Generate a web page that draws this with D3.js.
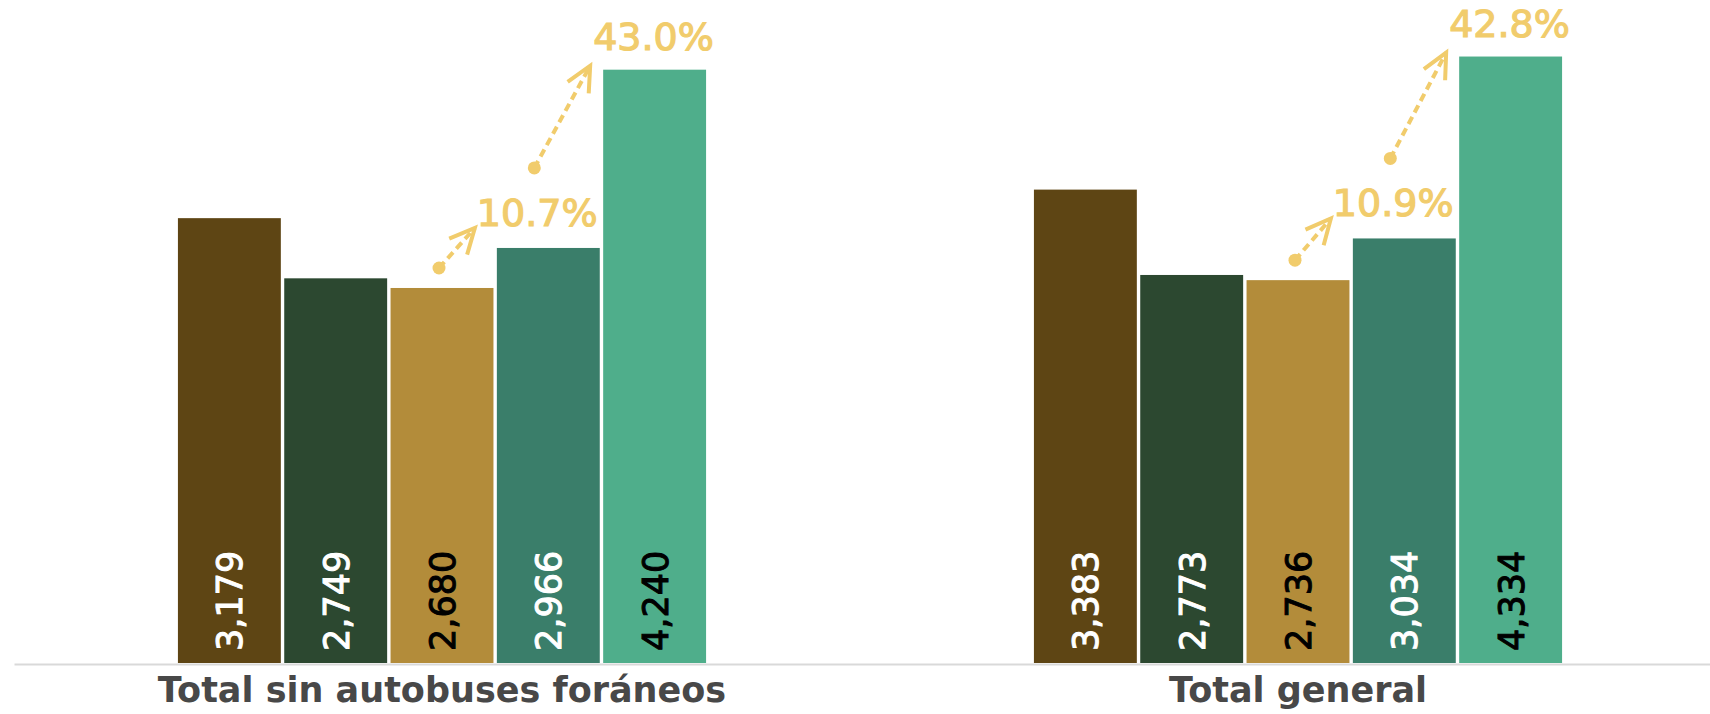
<html>
<head>
<meta charset="utf-8">
<style>
	body { margin: 0; background: #fff; }
	svg text { font-family: "DejaVu Sans", sans-serif; }
</style>
<script src="https://cdnjs.cloudflare.com/ajax/libs/d3/7.8.5/d3.min.js"></script>
</head>
<body>
<svg id="chart" width="1710" height="714"></svg>
<script>
let width = 1710,
	height = 714;

// data
let categories = ["Total sin autobuses foráneos", "Total general"];
let sinForaneos = [3179, 2749, 2680, 2966, 4240];
let totalGeneral = [3383, 2773, 2736, 3034, 4334];
let seriesValues = [sinForaneos, totalGeneral];

let barColors = ["#5e4514", "#2c4830", "#b38c3a", "#3a7e6a", "#4fae8b"];
let labelColors = ["#fff", "#fff", "#000", "#fff", "#000"];
let annoColor = "#f1cc6c";

let svg = d3.select("#chart");

let x0 = d3.scaleBand().domain(categories).range([14, 1726])
	.paddingInner(0.383).paddingOuter(0.1915);
let x1 = d3.scaleBand().domain(d3.range(5)).range([0, x0.bandwidth()])
	.paddingInner(0.032);
let y = d3.scaleLinear().domain([0, 4738]).range([663, 0]);

// arrow head
svg.append("defs").append("marker")
	.attr("id", "head")
	.attr("markerUnits", "userSpaceOnUse")
	.attr("viewBox", "-32 -18 38 36")
	.attr("markerWidth", 38)
	.attr("markerHeight", 36)
	.attr("refX", 0)
	.attr("refY", 0)
	.attr("orient", "auto")
	.append("path")
	.attr("d", "M-25,-12L0,0L-25,12")
	.attr("fill", "none")
	.attr("stroke", annoColor)
	.attr("stroke-width", 4);

// axis at the bottom, category names as tick labels
let axis = svg.append("g")
	.attr("transform", "translate(0,664)")
	.call(d3.axisBottom(x0).tickSize(0).tickPadding(13));
axis.select(".domain").attr("stroke", "#d9d9d9").attr("stroke-width", 2);
axis.selectAll(".tick text")
	.attr("font-family", "DejaVu Sans, sans-serif")
	.attr("font-size", 35)
	.attr("font-weight", "bold")
	.attr("fill", "#484848");

let groups = svg.selectAll(".group")
	.data(categories.map((c, i) => ({cat: c, values: seriesValues[i]})))
	.join("g")
	.attr("class", "group")
	.attr("transform", d => `translate(${x0(d.cat)},0)`);

groups.selectAll("rect")
	.data(d => d.values)
	.join("rect")
	.attr("x", (d, i) => x1(i))
	.attr("y", d => y(d))
	.attr("width", x1.bandwidth())
	.attr("height", d => y(0) - y(d))
	.attr("fill", (d, i) => barColors[i]);

groups.selectAll(".val")
	.data(d => d.values)
	.join("text")
	.attr("class", "val")
	.attr("transform", (d, i) => `translate(${x1(i) + x1.bandwidth() / 2 + 13},651) rotate(-90)`)
	.attr("font-size", 35)
	.attr("fill", (d, i) => labelColors[i])
	.attr("stroke", (d, i) => labelColors[i])
	.attr("stroke-width", 1)
	.text(d => d3.format(",")(d));

// growth arrows: bar 2 -> bar 3 and bar 3 -> bar 4
groups.each(function(d) {
	let g = d3.select(this);
	let v = d.values;
	let pct = (a, b) => (100 * (b / a - 1)).toFixed(1) + "%";
	let arrows = [
		{x1: x1(2) + x1.bandwidth() / 2 - 3, y1: y(v[2]) - 20,
		 x2: x1(3) - 22, y2: y(v[3]) - 20,
		 tx: 2, ty: -2, label: pct(v[2], v[3])},
		{x1: x1(3) + x1.bandwidth() / 2 - 14, y1: y(v[3]) - 80,
		 x2: x1(4) - 13, y2: y(v[4]) - 4,
		 tx: 3, ty: -16, label: pct(v[3], v[4])}
	];
	arrows.forEach(a => {
		g.append("line")
			.attr("x1", a.x1).attr("y1", a.y1)
			.attr("x2", a.x2).attr("y2", a.y2)
			.attr("stroke", annoColor)
			.attr("stroke-width", 4)
			.attr("stroke-dasharray", "8,5")
			.attr("marker-end", "url(#head)");
		g.append("circle")
			.attr("cx", a.x1).attr("cy", a.y1)
			.attr("r", 6.5)
			.attr("fill", annoColor);
		g.append("text")
			.attr("x", a.x2 + a.tx)
			.attr("y", a.y2 + a.ty)
			.attr("font-size", 38)
			.attr("fill", annoColor)
			.attr("stroke", annoColor)
			.attr("stroke-width", 1.2)
			.text(a.label);
	});
});
</script>
</body>
</html>
